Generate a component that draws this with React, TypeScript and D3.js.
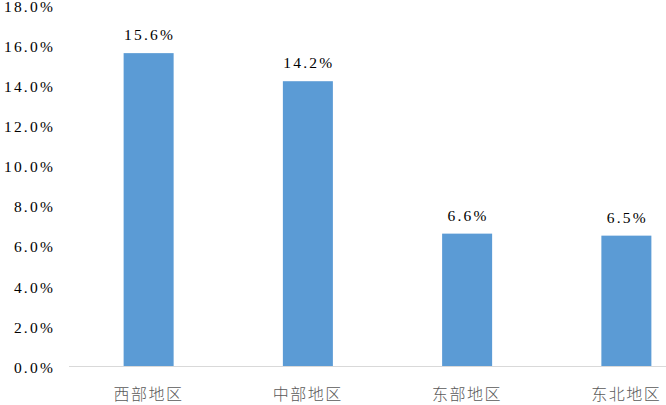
import React, { useEffect, useRef } from 'react';
import * as d3 from 'd3';

const categories = ['西部地区', '中部地区', '东部地区', '东北地区'];
const values = [15.6, 14.2, 6.6, 6.5];
const yTicks = [0, 2, 4, 6, 8, 10, 12, 14, 16, 18];

export default function App() {
  const svgRef = useRef<SVGSVGElement>(null);

  useEffect(() => {
    if (!svgRef.current) return;
    const svg = d3.select(svgRef.current);
    svg.selectAll('*').remove();

    const width = 666;
    const height = 405;
    const margin = { top: 5, left: 69, bottom: 39 };
    const baseY = height - margin.bottom;

    const x = d3.scaleBand<string>()
      .domain(categories)
      .range([margin.left, 706])
      .paddingInner(0.686)
      .paddingOuter(0.343);

    const y = d3.scaleLinear()
      .domain([0, 18])
      .range([baseY, margin.top]);

    const serif = "'Liberation Serif', 'Times New Roman', serif";

    // y tick labels
    svg.append('g')
      .selectAll('text')
      .data(yTicks)
      .join('text')
      .attr('x', 55)
      .attr('y', d => y(d) + 6.8)
      .attr('text-anchor', 'end')
      .style('font-family', serif)
      .attr('font-size', 15.5)
      .attr('letter-spacing', 2.2)
      .attr('fill', '#000')
      .text(d => `${d.toFixed(1)}%`);

    // bars
    svg.append('g')
      .selectAll('rect')
      .data(values)
      .join('rect')
      .attr('x', (_, i) => x(categories[i])!)
      .attr('y', d => y(d))
      .attr('width', x.bandwidth())
      .attr('height', d => baseY - y(d))
      .attr('fill', '#5B9BD5');

    // axis line
    svg.append('line')
      .attr('x1', margin.left)
      .attr('x2', width)
      .attr('y1', baseY + 0.5)
      .attr('y2', baseY + 0.5)
      .attr('stroke', '#D9D9D9')
      .attr('stroke-width', 1);

    // data labels
    svg.append('g')
      .selectAll('text')
      .data(values)
      .join('text')
      .attr('x', (_, i) => x(categories[i])! + x.bandwidth() / 2 + 1)
      .attr('y', d => y(d) - 13)
      .attr('text-anchor', 'middle')
      .style('font-family', serif)
      .attr('font-size', 15.5)
      .attr('letter-spacing', 2.2)
      .attr('fill', '#000')
      .text(d => `${d.toFixed(1)}%`);

    // category labels
    svg.append('g')
      .selectAll('text')
      .data(categories)
      .join('text')
      .attr('x', d => x(d)! + x.bandwidth() / 2)
      .attr('y', 400)
      .attr('text-anchor', 'middle')
      .style('font-family', "'Noto Sans CJK SC', sans-serif")
      .attr('font-size', 16)
      .attr('font-weight', 300)
      .attr('letter-spacing', 1.5)
      .attr('fill', '#595959')
      .text(d => d);
  }, []);

  return (
    <svg
      ref={svgRef}
      width={666}
      height={405}
      style={{ position: 'absolute', left: 0, top: 0, background: '#fff' }}
    />
  );
}
